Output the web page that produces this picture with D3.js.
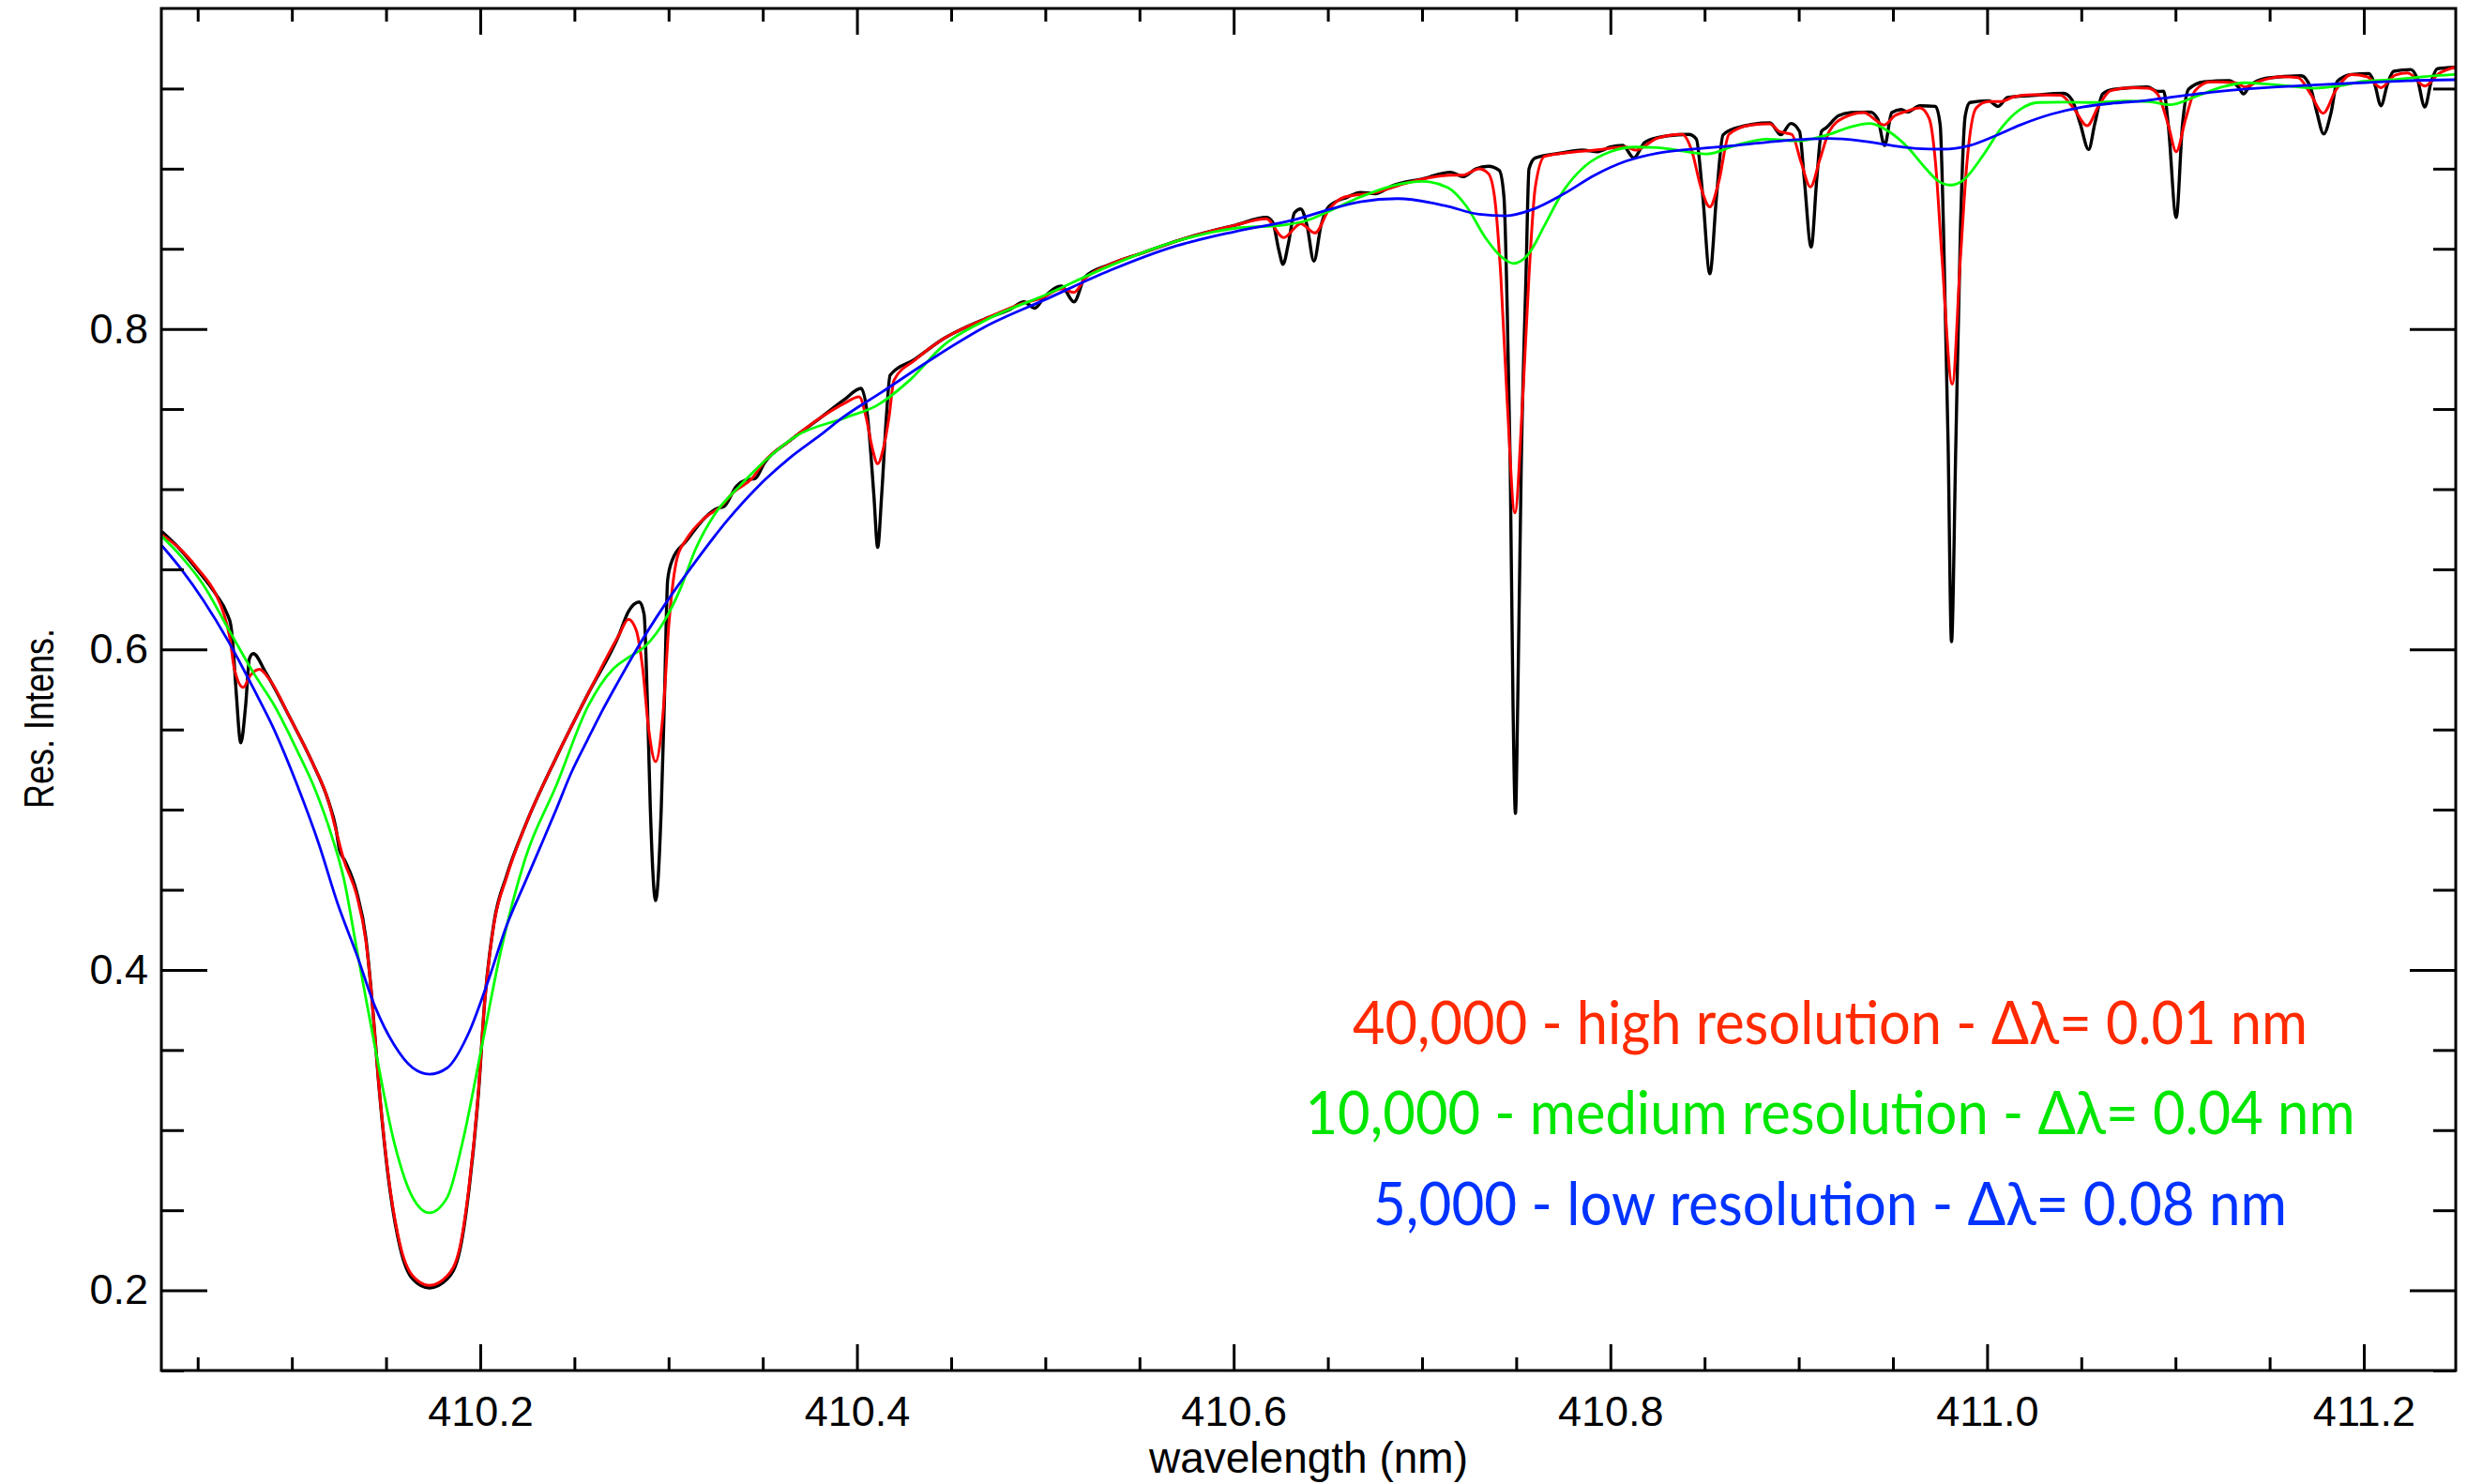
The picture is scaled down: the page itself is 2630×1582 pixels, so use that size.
<!DOCTYPE html>
<html><head><meta charset="utf-8">
<script src="https://cdn.jsdelivr.net/npm/d3@7"></script>
<style>
html,body{margin:0;padding:0;background:#fff;}
svg{display:block;}
</style></head>
<body>
<svg id="chart" width="2630" height="1582"></svg>
<script>
// ---------------- DATA ----------------
// observed (full resolution) spectrum
const obsWl = [410.0310,410.0397,410.0496,410.0596,410.0654,410.0676,410.0687,410.0704,410.0729,410.0754,410.0775,410.0795,410.0861,410.0994,410.1110,410.1193,410.1233,410.1253,410.1283,410.1343,410.1393,410.1426,410.1459,410.1509,410.1575,410.1642,410.1730,410.1824,410.1891,410.1941,410.1990,410.2024,410.2073,410.2140,410.2239,410.2405,410.2571,410.2737,410.2787,410.2845,410.2870,410.2887,410.2903,410.2931,410.2961,410.2978,410.2995,410.3020,410.3094,410.3194,410.3260,410.3294,410.3360,410.3410,410.3460,410.3509,410.3642,410.3808,410.3932,410.4022,410.4057,410.4090,410.4110,410.4131,410.4156,410.4176,410.4306,410.4460,410.4679,410.4812,410.4887,410.4944,410.4994,410.5086,410.5152,410.5211,410.5343,410.5510,410.5675,410.5841,410.6008,410.6173,410.6207,410.6240,410.6262,410.6290,410.6323,410.6356,410.6389,410.6426,410.6464,410.6506,410.6605,410.6672,410.6755,410.6838,410.7004,410.7153,410.7219,410.7285,410.7352,410.7410,410.7435,410.7452,410.7468,410.7483,410.7496,410.7508,410.7527,410.7552,410.7568,410.7601,410.7751,410.7850,410.7933,410.8000,410.8066,410.8124,410.8182,410.8249,410.8415,410.8456,410.8490,410.8528,410.8564,410.8598,410.8664,410.8847,410.8905,410.8958,410.9004,410.9029,410.9066,410.9096,410.9121,410.9146,410.9212,410.9278,410.9378,410.9419,410.9456,410.9494,410.9544,410.9577,410.9643,410.9726,410.9751,410.9768,410.9793,410.9811,410.9834,410.9859,410.9884,410.9909,411.0008,411.0058,411.0108,411.0241,411.0406,411.0451,411.0494,411.0539,411.0572,411.0614,411.0672,411.0854,411.0904,411.0937,411.0962,411.1004,411.1037,411.1070,411.1153,411.1286,411.1336,411.1361,411.1394,411.1485,411.1668,411.1717,411.1751,411.1787,411.1826,411.1859,411.1934,411.2025,411.2058,411.2091,411.2125,411.2158,411.2249,411.2283,411.2324,411.2358,411.2391,411.2484];
const obsInt = [0.6735,0.6637,0.6500,0.6345,0.6228,0.6149,0.6032,0.5739,0.5417,0.5644,0.5944,0.5974,0.5856,0.5564,0.5291,0.5057,0.4889,0.4748,0.4678,0.4490,0.4198,0.3807,0.3319,0.2734,0.2265,0.2070,0.2015,0.2070,0.2246,0.2636,0.3222,0.3807,0.4295,0.4588,0.4900,0.5329,0.5720,0.6091,0.6237,0.6296,0.6218,0.5691,0.5007,0.4432,0.5007,0.5691,0.6433,0.6559,0.6676,0.6823,0.6881,0.6891,0.7018,0.7057,0.7067,0.7164,0.7301,0.7447,0.7558,0.7629,0.7447,0.6960,0.6637,0.6960,0.7447,0.7711,0.7810,0.7939,0.8062,0.8121,0.8169,0.8130,0.8198,0.8267,0.8169,0.8325,0.8403,0.8472,0.8540,0.8599,0.8647,0.8696,0.8667,0.8491,0.8403,0.8530,0.8725,0.8749,0.8647,0.8423,0.8647,0.8765,0.8823,0.8852,0.8844,0.8892,0.8937,0.8978,0.8950,0.8999,0.9015,0.8989,0.8823,0.8140,0.7164,0.5661,0.4977,0.5661,0.7164,0.8335,0.8999,0.9067,0.9100,0.9116,0.9106,0.9135,0.9145,0.9067,0.9164,0.9194,0.9214,0.9186,0.8835,0.8345,0.8835,0.9210,0.9253,0.9286,0.9212,0.9282,0.9233,0.8940,0.8511,0.8940,0.9233,0.9256,0.9331,0.9350,0.9354,0.9311,0.9145,0.9350,0.9369,0.9354,0.9393,0.9389,0.9272,0.8647,0.7282,0.6048,0.7282,0.8647,0.9331,0.9413,0.9424,0.9389,0.9444,0.9457,0.9470,0.9428,0.9282,0.9120,0.9282,0.9467,0.9496,0.9510,0.9482,0.9483,0.9272,0.8696,0.9272,0.9496,0.9542,0.9549,0.9506,0.9467,0.9516,0.9565,0.9580,0.9506,0.9350,0.9217,0.9350,0.9545,0.9588,0.9594,0.9526,0.9393,0.9526,0.9608,0.9619,0.9565,0.9385,0.9545,0.9624,0.9633];

// R = 40,000 (high resolution)
const highWl = [410.0310,410.0397,410.0496,410.0596,410.0637,410.0671,410.0695,410.0742,410.0779,410.0828,410.0878,410.0994,410.1110,410.1193,410.1233,410.1276,410.1343,410.1393,410.1426,410.1459,410.1509,410.1575,410.1642,410.1730,410.1824,410.1891,410.1941,410.1990,410.2024,410.2073,410.2140,410.2239,410.2405,410.2571,410.2737,410.2787,410.2828,410.2862,410.2895,410.2931,410.2970,410.3003,410.3045,410.3094,410.3194,410.3277,410.3343,410.3443,410.3509,410.3642,410.3808,410.3932,410.4012,410.4049,410.4082,410.4110,410.4140,410.4170,410.4197,410.4306,410.4460,410.4679,410.4887,410.4978,410.5086,410.5152,410.5211,410.5343,410.5510,410.5675,410.5841,410.6008,410.6173,410.6265,410.6356,410.6431,410.6506,410.6589,410.6755,410.6920,410.7153,410.7219,410.7302,410.7352,410.7385,410.7418,410.7452,410.7493,410.7534,410.7568,410.7601,410.7651,410.7751,410.7917,410.8083,410.8132,410.8249,410.8382,410.8431,410.8481,410.8528,410.8576,410.8630,410.8747,410.8847,410.8896,410.8963,410.9013,410.9062,410.9112,410.9162,410.9245,410.9345,410.9411,410.9452,410.9510,410.9577,410.9643,410.9693,410.9726,410.9760,410.9815,410.9859,410.9893,410.9942,411.0008,411.0075,411.0141,411.0241,411.0390,411.0461,411.0531,411.0591,411.0656,411.0772,411.0855,411.0904,411.0962,411.1004,411.1054,411.1104,411.1187,411.1319,411.1369,411.1436,411.1568,411.1651,411.1717,411.1784,411.1850,411.1934,411.2017,411.2091,411.2166,411.2233,411.2324,411.2399,411.2484];
const highInt = [0.6715,0.6637,0.6510,0.6345,0.6228,0.6071,0.5876,0.5763,0.5837,0.5876,0.5818,0.5564,0.5291,0.5057,0.4877,0.4685,0.4471,0.4180,0.3807,0.3319,0.2746,0.2283,0.2090,0.2031,0.2090,0.2265,0.2652,0.3232,0.3807,0.4286,0.4578,0.4900,0.5329,0.5720,0.6091,0.6188,0.6120,0.5886,0.5496,0.5300,0.5593,0.6178,0.6569,0.6686,0.6823,0.6891,0.6979,0.7067,0.7174,0.7301,0.7447,0.7535,0.7576,0.7447,0.7254,0.7159,0.7254,0.7447,0.7681,0.7804,0.7939,0.8062,0.8162,0.8191,0.8249,0.8228,0.8314,0.8403,0.8472,0.8540,0.8599,0.8647,0.8687,0.8570,0.8657,0.8599,0.8745,0.8823,0.8852,0.8911,0.8960,0.8960,0.8999,0.8970,0.8823,0.8335,0.7554,0.6852,0.7554,0.8335,0.8882,0.9077,0.9097,0.9116,0.9135,0.9116,0.9190,0.9214,0.9116,0.8882,0.8762,0.8921,0.9215,0.9272,0.9280,0.9233,0.9214,0.9038,0.8886,0.9057,0.9233,0.9321,0.9350,0.9301,0.9272,0.9331,0.9360,0.9379,0.9311,0.9038,0.8453,0.7656,0.8453,0.9038,0.9379,0.9419,0.9419,0.9448,0.9461,0.9458,0.9374,0.9268,0.9389,0.9487,0.9506,0.9502,0.9467,0.9272,0.9106,0.9311,0.9487,0.9542,0.9536,0.9510,0.9542,0.9574,0.9568,0.9467,0.9346,0.9487,0.9588,0.9574,0.9506,0.9584,0.9598,0.9516,0.9594,0.9633];

// R = 10,000 (medium resolution)
const medWl = [410.0310,410.0413,410.0530,410.0662,410.0795,410.0911,410.1028,410.1127,410.1210,410.1276,410.1343,410.1442,410.1542,410.1642,410.1730,410.1824,410.1907,410.2007,410.2106,410.2239,410.2405,410.2571,410.2704,410.2779,410.2879,410.2978,410.3061,410.3144,410.3244,410.3376,410.3509,410.3675,410.3941,410.4107,410.4281,410.4460,410.4679,410.5011,410.5343,410.5675,410.6008,410.6257,410.6389,410.6506,410.6672,410.6838,410.7004,410.7137,410.7236,410.7336,410.7418,410.7485,410.7568,410.7651,410.7751,410.7867,410.8000,410.8132,410.8249,410.8415,410.8514,410.8664,410.8830,410.8996,410.9162,410.9278,410.9378,410.9477,410.9577,410.9676,410.9743,410.9806,410.9875,410.9975,411.0074,411.0174,411.0274,411.0406,411.0572,411.0738,411.0870,411.0970,411.1103,411.1236,411.1368,411.1468,411.1601,411.1734,411.1866,411.1999,411.2148,411.2314,411.2484];
const medInt = [0.6705,0.6579,0.6403,0.6130,0.5856,0.5642,0.5369,0.5115,0.4842,0.4568,0.4139,0.3514,0.2929,0.2578,0.2484,0.2578,0.2929,0.3514,0.4100,0.4695,0.5154,0.5642,0.5876,0.5944,0.6023,0.6178,0.6374,0.6628,0.6842,0.7018,0.7174,0.7330,0.7447,0.7523,0.7681,0.7898,0.8052,0.8218,0.8394,0.8540,0.8628,0.8647,0.8677,0.8735,0.8823,0.8892,0.8921,0.8882,0.8765,0.8570,0.8453,0.8409,0.8472,0.8647,0.8862,0.9018,0.9106,0.9135,0.9132,0.9104,0.9092,0.9145,0.9184,0.9174,0.9214,0.9262,0.9282,0.9233,0.9135,0.8999,0.8921,0.8898,0.8930,0.9077,0.9252,0.9369,0.9413,0.9415,0.9413,0.9423,0.9417,0.9399,0.9448,0.9506,0.9536,0.9530,0.9516,0.9502,0.9516,0.9545,0.9555,0.9574,0.9588];

// R = 5,000 (low resolution)
const lowWl = [410.0310,410.0413,410.0530,410.0662,410.0795,410.0911,410.1028,410.1144,410.1243,410.1343,410.1442,410.1542,410.1642,410.1730,410.1824,410.1941,410.2040,410.2140,410.2239,410.2314,410.2405,410.2480,410.2571,410.2646,410.2737,410.2812,410.2978,410.3144,410.3310,410.3476,410.3642,410.3808,410.3924,410.4131,410.4380,410.4679,410.5011,410.5343,410.5675,410.6008,410.6340,410.6506,410.6672,410.6871,410.7120,410.7303,410.7444,410.7585,410.7751,410.7917,410.8083,410.8249,410.8415,410.8664,410.8913,410.9162,410.9328,410.9494,410.9626,410.9759,410.9908,411.0041,411.0174,411.0340,411.0506,411.0672,411.0838,411.0987,411.1236,411.1485,411.1734,411.1983,411.2232,411.2484];
const lowInt = [0.6647,0.6500,0.6306,0.6052,0.5759,0.5486,0.5154,0.4783,0.4414,0.4100,0.3769,0.3534,0.3388,0.3349,0.3388,0.3612,0.3924,0.4276,0.4549,0.4754,0.5006,0.5222,0.5439,0.5613,0.5808,0.5964,0.6276,0.6550,0.6803,0.7018,0.7194,0.7340,0.7447,0.7605,0.7799,0.8013,0.8189,0.8365,0.8511,0.8608,0.8687,0.8745,0.8794,0.8813,0.8770,0.8716,0.8706,0.8745,0.8842,0.8960,0.9047,0.9097,0.9120,0.9145,0.9174,0.9188,0.9174,0.9145,0.9126,0.9122,0.9145,0.9204,0.9272,0.9340,0.9385,0.9409,0.9424,0.9448,0.9483,0.9506,0.9522,0.9536,0.9549,0.9555];

// axis ticks
const xMajorTicks = [410.2, 410.4, 410.6, 410.8, 411.0, 411.2];
const xMinorTicks = [410.05, 410.1, 410.15, 410.25, 410.3, 410.35, 410.45, 410.5, 410.55, 410.65, 410.7, 410.75, 410.85, 410.9, 410.95, 411.05, 411.1, 411.15];
const yMajorTicks = [0.2, 0.4, 0.6, 0.8];
const yMinorTicks = [0.15, 0.25, 0.3, 0.35, 0.45, 0.5, 0.55, 0.65, 0.7, 0.75, 0.85, 0.9, 0.95];

// legend texts
const legendLabels = [
  "40,000 - high resolution - \u0394\u03bb= 0.01 nm",
  "10,000 - medium resolution - \u0394\u03bb= 0.04 nm",
  "5,000 - low resolution - \u0394\u03bb= 0.08 nm"
];
const xTitle = "wavelength (nm)";
const yTitle = "Res. Intens.";

// ---------------- STYLE / LAYOUT ----------------
const W = 2630, H = 1582;
const plot = {left: 172, right: 2618, top: 9, bottom: 1461};
const xDomain = [410.0307, 411.2488];
const yDomain = [0.15, 1.0];
const lineColors = {obs: "#000000", high: "#ff0000", med: "#00ff00", low: "#0000ff"};
const legendColors = ["#ff2a00", "#00e600", "#0033ff"];
const legendLayout = [
  {y: 1113, len: 1018},
  {y: 1209, len: 1119},
  {y: 1306, len: 974}
];
const tickFont = "'Liberation Sans', Arial, Helvetica, sans-serif";

const svg = d3.select("#chart");
svg.append("rect").attr("width", W).attr("height", H).attr("fill", "#fff");

const x = d3.scaleLinear().domain(xDomain).range([plot.left, plot.right]);
const y = d3.scaleLinear().domain(yDomain).range([plot.bottom, plot.top]);

svg.append("clipPath").attr("id", "clip")
  .append("rect").attr("x", plot.left).attr("y", plot.top)
  .attr("width", plot.right - plot.left).attr("height", plot.bottom - plot.top);

const line = d3.line().x(d => x(d[0])).y(d => y(d[1])).curve(d3.curveMonotoneX);
const zip = (a, b) => a.map((v, i) => [v, b[i]]);

const series = [
  {data: zip(obsWl, obsInt), color: lineColors.obs, w: 3.4},
  {data: zip(highWl, highInt), color: lineColors.high, w: 3},
  {data: zip(medWl, medInt), color: lineColors.med, w: 2.8},
  {data: zip(lowWl, lowInt), color: lineColors.low, w: 2.8}
];
const gLines = svg.append("g").attr("clip-path", "url(#clip)");
series.forEach(s => {
  gLines.append("path").datum(s.data)
    .attr("fill", "none").attr("stroke", s.color)
    .attr("stroke-width", s.w).attr("stroke-linejoin", "round")
    .attr("d", line);
});

// axes
function styleAxis(g) {
  g.select(".domain").remove();
  g.selectAll(".tick line").attr("stroke", "#000").attr("stroke-width", 3);
  g.selectAll(".tick text").attr("fill", "#000").attr("font-family", tickFont).attr("font-size", 45);
}
const fmt = d3.format(".1f");
svg.append("g").attr("transform", `translate(0,${plot.bottom})`)
  .call(d3.axisBottom(x).tickValues(xMajorTicks).tickSize(-28).tickPadding(27).tickFormat(fmt)).call(styleAxis);
svg.append("g").attr("transform", `translate(0,${plot.bottom})`)
  .call(d3.axisBottom(x).tickValues(xMinorTicks).tickSize(-14).tickFormat("")).call(styleAxis);
svg.append("g").attr("transform", `translate(0,${plot.top})`)
  .call(d3.axisTop(x).tickValues(xMajorTicks).tickSize(-28).tickFormat("")).call(styleAxis);
svg.append("g").attr("transform", `translate(0,${plot.top})`)
  .call(d3.axisTop(x).tickValues(xMinorTicks).tickSize(-14).tickFormat("")).call(styleAxis);
svg.append("g").attr("transform", `translate(${plot.left},0)`)
  .call(d3.axisLeft(y).tickValues(yMajorTicks).tickSize(-49).tickPadding(14).tickFormat(fmt)).call(styleAxis);
svg.append("g").attr("transform", `translate(${plot.left},0)`)
  .call(d3.axisLeft(y).tickValues(yMinorTicks).tickSize(-24).tickFormat("")).call(styleAxis);
svg.append("g").attr("transform", `translate(${plot.right},0)`)
  .call(d3.axisRight(y).tickValues(yMajorTicks).tickSize(-49).tickFormat("")).call(styleAxis);
svg.append("g").attr("transform", `translate(${plot.right},0)`)
  .call(d3.axisRight(y).tickValues(yMinorTicks).tickSize(-24).tickFormat("")).call(styleAxis);

// frame
svg.append("rect").attr("x", plot.left).attr("y", plot.top)
  .attr("width", plot.right - plot.left).attr("height", plot.bottom - plot.top)
  .attr("fill", "none").attr("stroke", "#000").attr("stroke-width", 3);

// axis titles
svg.append("text").attr("x", (plot.left + plot.right) / 2).attr("y", 1570)
  .attr("text-anchor", "middle").attr("font-family", tickFont).attr("font-size", 46)
  .attr("fill", "#000").text(xTitle);
svg.append("text").attr("transform", "translate(57,766) rotate(-90)")
  .attr("text-anchor", "middle").attr("font-family", tickFont).attr("font-size", 44)
  .attr("textLength", 192).attr("lengthAdjust", "spacingAndGlyphs")
  .attr("fill", "#000").text(yTitle);

// legend
const cx = 1951;
legendLabels.forEach((t, i) => {
  svg.append("text").attr("x", cx).attr("y", legendLayout[i].y)
    .attr("text-anchor", "middle")
    .attr("font-family", "Lato, 'Open Sans', sans-serif").attr("font-size", 64)
    .attr("textLength", legendLayout[i].len).attr("lengthAdjust", "spacingAndGlyphs")
    .attr("fill", legendColors[i]).text(t);
});
</script>
</body></html>
